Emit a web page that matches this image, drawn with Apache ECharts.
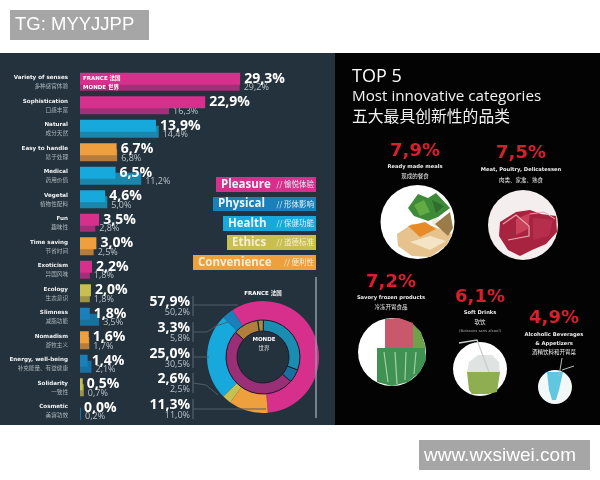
<!DOCTYPE html>
<html>
<head>
<meta charset="utf-8">
<title>Most innovative categories</title>
<style>
    html, body { margin: 0; padding: 0; background: #fff; }
    #chart { width: 600px; height: 480px; }
</style>
<script src="https://cdn.jsdelivr.net/npm/echarts@6/dist/echarts.min.js"></script>
</head>
<body>
<div id="chart"></div>
<script>
// 条形图数据
const categories = ['Variety of senses', 'Sophistication', 'Natural', 'Easy to handle', 'Medical', 'Vegetal', 'Fun', 'Time saving', 'Exoticism', 'Ecology', 'Slimness', 'Nomadism', 'Energy, well-being', 'Solidarity', 'Cosmetic'];
const categoriesZh = ['多种感官体验', '口感丰富', '成分天然', '易于处理', '药用价值', '植物性配料', '趣味性', '节省时间', '异国风味', '生态意识', '减脂功能', '游牧主义', '补充能量、有益健康', '一致性', '美容功效'];
const categoryGroups = [0, 0, 2, 4, 2, 2, 0, 4, 0, 3, 1, 4, 1, 3, 1];
const franceValues = [29.3, 22.9, 13.9, 6.7, 6.5, 4.6, 3.5, 3.0, 2.2, 2.0, 1.8, 1.6, 1.4, 0.5, 0.0];
const mondeValues = [29.2, 16.3, 14.4, 6.8, 11.2, 5.0, 2.8, 2.5, 1.8, 1.8, 3.5, 1.7, 2.1, 0.7, 0.2];

// 环形图数据 (same order as the group legend)
const groupNames = ['Pleasure', 'Physical', 'Health', 'Ethics', 'Convenience'];
const groupNamesZh = ['愉悦体验', '形体影响', '保健功能', '道德标准', '便利性'];
const groupFrance = [57.9, 3.3, 25.0, 2.6, 11.3];
const groupMonde = [50.2, 5.8, 30.5, 2.5, 11.0];

// TOP 5
const topValues = ['7,9%', '7,5%', '7,2%', '6,1%', '4,9%'];
const topNames = [
    ['Ready made meals', '现成的餐食'],
    ['Meat, Poultry, Delicatessen', '肉类、家禽、熟食'],
    ['Savory frozen products', '冷冻开胃食品'],
    ['Soft Drinks', '软饮', '(Boissons sans alcool)'],
    ['Alcoholic Beverages', '& Appetizers', '酒精饮料和开胃菜']
];

const brightColors = ['#d6308c', '#1a80ba', '#17a9dc', '#c9bf50', '#eea03f'];
const darkColors = ['#a22f77', '#17709f', '#1a86ab', '#9c9345', '#b57c3b'];
const ringColors = ['#9a2f78', '#17709f', '#1a8db0', '#a58b45', '#b07f3c'];

const LATIN = '"DejaVu Sans", "Noto Sans CJK SC"';
const NUMBER = '"Open Sans", "DejaVu Sans"';
const CJK = '"Noto Sans CJK SC", "DejaVu Sans"';
const pct = v => v.toFixed(1).replace('.', ',') + '%';

function text(str, x, y, size, fill, opts) {
    opts = opts || {};
    return {
        type: 'text', z: 10, silent: true,
        style: {
            text: str, x: x, y: y, fill: fill,
            font: (opts.weight || 'normal') + ' ' + size + 'px ' + (opts.family || LATIN),
            align: opts.align || 'left', verticalAlign: 'middle'
        }
    };
}
function rect(x, y, w, h, fill, z) {
    return { type: 'rect', z: z === undefined ? 10 : z, silent: true, shape: { x: x, y: y, width: w, height: h }, style: { fill: fill } };
}
function circle(cx, cy, r, fill) {
    return { type: 'circle', z: 10, silent: true, shape: { cx: cx, cy: cy, r: r }, style: { fill: fill } };
}
function poly(points, fill) {
    return { type: 'polygon', z: 11, silent: true, shape: { points: points }, style: { fill: fill } };
}
function line(points, stroke, width) {
    return { type: 'polyline', z: 11, silent: true, shape: { points: points }, style: { stroke: stroke, lineWidth: width || 1, fill: null } };
}

const graphics = [
    rect(0, 53, 335, 372, '#24323d', -1),
    rect(335, 53, 265, 372, '#030303', -1),
    // 水印
    rect(10, 10, 139, 30, '#a6a6a6'),
    text('TG: MYYJJPP', 15, 25, 18.5, '#fff', { family: '"Liberation Sans"' }),
    rect(419, 440, 171, 30, '#a6a6a6'),
    text('www.wxsiwei.com', 424, 456, 19, '#fff', { family: '"Liberation Sans"' }),
    // 首行标注
    text('FRANCE 法国', 83, 79, 5.5, '#fff', { weight: 'bold' }),
    text('MONDE 世界', 83, 88, 5.5, '#fff', { weight: 'bold' }),
    // 标题
    text('TOP 5', 352, 77, 18, '#fff', { family: '"Open Sans"' }),
    text('Most innovative categories', 352, 97, 15.2, '#f2f2f2', { family: '"Open Sans"' }),
    text('五大最具创新性的品类', 352, 116, 15.8, '#f2f2f2', { family: CJK })
];

// 分组图例
const tagBoxes = [[216, 177, 100, 15], [213, 197, 103, 14], [223, 216, 93, 15], [227, 235, 89, 15], [193, 255, 123, 15]];
groupNames.forEach((name, i) => {
    const b = tagBoxes[i];
    graphics.push(rect(b[0], b[1], b[2], b[3], brightColors[i]));
    graphics.push(text(name, b[0] + 5, b[1] + b[3] / 2, 11.5, i >= 3 ? '#f6eed0' : '#e8f6fb', { weight: 'bold', family: '"Open Sans"' }));
    graphics.push(text('// ' + groupNamesZh[i], 314, b[1] + b[3] / 2, 7.5, i >= 3 ? '#f6eed0' : '#dff0f6', { align: 'right', family: CJK }));
});

// 环形图左侧数值和引线
const rowY = [302, 328, 354, 379, 405];
const leaders = [
    [[193, 305], [238, 305]],
    [[193, 332], [207, 332], [216, 326], [228, 322]],
    [[193, 357], [209, 357]],
    [[193, 383], [206, 385], [218, 395]],
    [[193, 409], [266, 409]]
];
groupNames.forEach((name, i) => {
    graphics.push(text(pct(groupFrance[i]), 190, rowY[i], 14, '#fff', { weight: 'bold', align: 'right', family: NUMBER }));
    graphics.push(text(pct(groupMonde[i]), 190, rowY[i] + 10, 9, '#b8c2c8', { align: 'right', family: NUMBER }));
    graphics.push(line([[193, rowY[i] - 6], [193, rowY[i] + 14]], '#5b6a74'));
    graphics.push(line(leaders[i], '#4f5f6a'));
});
graphics.push(line([[316, 277], [316, 418]], '#8b9ca8', 1.5));
graphics.push(text('FRANCE 法国', 263, 294, 5.5, '#fff', { weight: 'bold', align: 'center' }));
graphics.push(text('MONDE', 264, 340, 5.5, '#fff', { weight: 'bold', align: 'center' }));
graphics.push(text('世界', 264, 348, 5.5, '#d5d9dc', { align: 'center', family: CJK }));

// TOP 5 文字
const topLayout = [
    { x: 415, y: 151, lines: [167, 176] },
    { x: 521, y: 153, lines: [170, 180] },
    { x: 391, y: 282, lines: [298, 307] },
    { x: 480, y: 297, lines: [313, 322, 331] },
    { x: 554, y: 318, lines: [335, 344, 352] }
];
topValues.forEach((v, i) => {
    const t = topLayout[i];
    graphics.push(text(v, t.x, t.y, 18, '#d81f2d', { weight: 'bold', align: 'center' }));
    topNames[i].forEach((s, j) => {
        const small = s.charAt(0) === '(';
        const latin = /[a-z]/i.test(s);
        graphics.push(text(s, t.x, t.lines[j], small ? 3.8 : (latin ? 5.2 : 5.5), small ? '#aaa' : '#eee', { align: 'center', weight: latin && !small ? 'bold' : 'normal', family: latin ? LATIN : CJK }));
    });
});

// 图片替代：简化的食物插图
graphics.push(
    circle(417.5, 222, 37, '#fff'),
    poly([[397, 234], [412, 224], [432, 226], [452, 234], [447, 245], [430, 257], [412, 256], [398, 246]], '#e6c38e'),
    poly([[408, 226], [425, 222], [436, 229], [420, 237]], '#e98a28'),
    poly([[410, 242], [430, 236], [446, 241], [430, 250]], '#f4e4c6'),
    poly([[435, 224], [450, 212], [453, 228], [448, 236]], '#9a7c48'),
    circle(436, 222, 4, '#f3ead7'),
    poly([[408, 208], [418, 194], [428, 198], [436, 193], [450, 208], [438, 217], [428, 221], [414, 216]], '#3f8a38'),
    poly([[414, 205], [424, 200], [430, 212], [420, 216]], '#62ab45'),
    poly([[432, 200], [444, 206], [436, 213]], '#2f6f2d')
);
graphics[graphics.length - 1].z = 12;
graphics.push(
    circle(523, 225, 35, '#f4eeee'),
    poly([[500, 222], [516, 212], [530, 210], [541, 214], [556, 216], [557, 232], [546, 244], [532, 250], [520, 256], [508, 250], [499, 236]], '#a8233f'),
    poly([[516, 219], [530, 213], [528, 229], [516, 235]], '#c9415a'),
    poly([[533, 218], [553, 220], [549, 236], [533, 240]], '#b52f4c'),
    line([[503, 224], [516, 215], [529, 226], [529, 236], [508, 240]], '#e6a8b0', 1.2),
    line([[530, 214], [544, 212], [555, 219]], '#e6a8b0', 1)
);
graphics.push(
    circle(392, 352, 34, '#fff'),
    poly([[385, 319], [399, 318], [413, 323], [413, 348], [385, 348]], '#c9586c'),
    poly([[413, 324], [421, 332], [425, 345], [425, 348], [413, 348]], '#6da24a'),
    poly([[377, 348], [425, 348], [426, 360], [420, 372], [408, 382], [392, 386], [377, 382]], '#3f9252'),
    line([[384, 352], [388, 382]], '#9fd0a0', 1.2),
    line([[395, 352], [397, 384]], '#9fd0a0', 1.2),
    line([[406, 352], [405, 380]], '#9fd0a0', 1.2),
    line([[416, 352], [414, 374]], '#9fd0a0', 1.2)
);
graphics.push(
    circle(480, 369, 27, '#fff'),
    poly([[467, 372], [500, 372], [497, 392], [488, 394], [472, 394], [469, 390]], '#8fae52'),
    poly([[467, 372], [469, 362], [478, 355], [492, 355], [499, 362], [500, 372]], '#dfe4e2'),
    line([[459, 343], [477, 340], [489, 372]], '#c9cdcd', 1.3)
);
graphics.push(
    circle(555, 387, 17, '#f2f8f8'),
    poly([[547, 372], [563, 372], [559, 390], [556, 400], [552, 400], [549, 390]], '#61c6e0'),
    line([[559, 376], [562, 358]], '#b8b8b8', 1),
    line([[562, 370], [574, 366]], '#b8b8b8', 1)
);

// 条形图每项按分组着色
const france = franceValues.map((v, i) => ({ value: v, itemStyle: { color: brightColors[categoryGroups[i]] } }));
const monde = mondeValues.map((v, i) => ({ value: v, itemStyle: { color: darkColors[categoryGroups[i]] } }));
const pieData = (values, colors) => values.map((v, i) => ({ value: v, name: groupNames[i], itemStyle: { color: colors[i] } }));

const chart = echarts.init(document.getElementById('chart'));
chart.setOption({
    animation: false,
    backgroundColor: '#fff',
    graphic: { elements: graphics },
    grid: { left: 80, top: 70, width: 164, height: 352.5, containLabel: false },
    xAxis: { type: 'value', min: 0, max: 30, show: false },
    yAxis: {
        type: 'category',
        inverse: true,
        data: categories,
        axisLine: { show: false },
        axisTick: { show: false },
        axisLabel: {
            margin: 12,
            interval: 0,
            align: 'right',
            formatter: (value, i) => '{en|' + value + '}\n{zh|' + categoriesZh[i] + '}',
            rich: {
                en: { fontFamily: LATIN, fontSize: 5.6, fontWeight: 'bold', color: '#f0f2f3', align: 'right', lineHeight: 9 },
                zh: { fontFamily: CJK, fontSize: 5.6, color: '#aeb7bc', align: 'right', lineHeight: 8 }
            }
        }
    },
    series: [
        {
            name: 'FRANCE',
            type: 'bar',
            data: france,
            barWidth: 12,
            barGap: '-50%',
            z: 3,
            silent: true,
            label: {
                show: true, position: 'right', distance: 4,
                fontFamily: NUMBER, fontSize: 14, fontWeight: 'bold', color: '#fff',
                formatter: p => pct(p.value)
            }
        },
        {
            name: 'MONDE',
            type: 'bar',
            data: monde,
            barWidth: 12,
            z: 2,
            silent: true,
            label: {
                show: true, position: 'right', distance: 4, offset: [0, 3],
                fontFamily: NUMBER, fontSize: 9, color: '#b8c2c8',
                formatter: p => pct(p.value)
            }
        },
        {
            name: 'FRANCE ring',
            type: 'pie',
            center: [263, 357],
            radius: [37, 56],
            startAngle: -85,
            clockwise: false,
            silent: true,
            label: { show: false },
            labelLine: { show: false },
            data: pieData(groupFrance, brightColors)
        },
        {
            name: 'MONDE ring',
            type: 'pie',
            center: [263, 357],
            radius: [26, 37],
            startAngle: 138,
            clockwise: false,
            silent: true,
            itemStyle: { borderColor: '#1c1a2c', borderWidth: 1 },
            label: { show: false },
            labelLine: { show: false },
            data: pieData(groupMonde, ringColors).map(d => ({ value: d.value, name: d.name, itemStyle: { color: d.itemStyle.color, borderColor: '#1c1a2c', borderWidth: 1 } }))
        }
    ]
});
</script>
</body>
</html>
